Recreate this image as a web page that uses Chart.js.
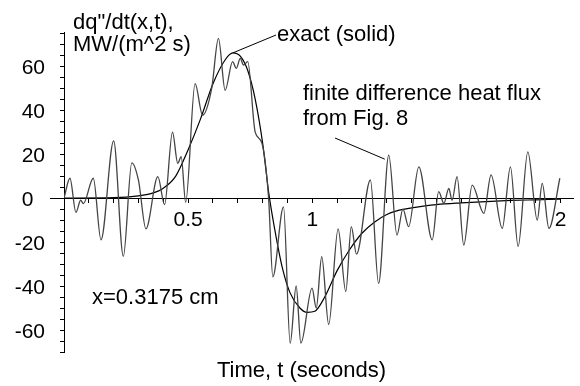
<!DOCTYPE html>
<html>
<head>
<meta charset="utf-8">
<script src="https://cdn.jsdelivr.net/npm/chart.js@4.4.0/dist/chart.umd.min.js"></script>
<style>
  html, body { margin: 0; padding: 0; background: #fff; }
  #wrap { width: 580px; height: 386px; position: relative; }
</style>
</head>
<body>
<div id="wrap"><canvas id="fluxChart"></canvas></div>
<script>
// exact solution (smooth curve), time in s, dq"/dt in MW/(m^2 s)
const exactT = [0, 0.2, 0.3, 0.35, 0.4, 0.45, 0.5, 0.55, 0.6, 0.65, 0.68, 0.71, 0.74, 0.77, 0.8, 0.825,
  0.85, 0.88, 0.91, 0.95, 0.98, 1.01, 1.05, 1.1, 1.15, 1.2, 1.25, 1.3, 1.35, 1.4, 1.5, 1.6, 1.7, 1.8, 1.9, 2.0];
const exactQ = [0, 0.2, 1, 2, 4.5, 10, 22, 36, 52, 63, 66, 64.5, 58, 45, 25, 2,
  -15, -32, -43, -50, -52, -51.5, -45, -33, -23.5, -16, -11, -7.5, -5.5, -4.5, -3, -2.2, -1.6, -1.1, -0.8, -0.5];

// finite difference heat flux (noisy curve)
const fdT = [0, 0.024, 0.048, 0.067, 0.078, 0.118, 0.149, 0.2, 0.239, 0.273, 0.3, 0.33, 0.378, 0.405,
  0.437, 0.458, 0.472, 0.49, 0.528, 0.558, 0.595, 0.622, 0.649, 0.679, 0.694, 0.71, 0.723, 0.74,
  0.77, 0.797, 0.824, 0.841, 0.884, 0.911, 0.935, 0.954, 0.999, 1.016, 1.038, 1.066, 1.104, 1.135,
  1.157, 1.178, 1.234, 1.267, 1.308, 1.341, 1.365, 1.388, 1.429, 1.483, 1.509, 1.53, 1.55, 1.563,
  1.583, 1.61, 1.644, 1.691, 1.72, 1.765, 1.798, 1.829, 1.868, 1.906, 1.926, 1.953, 1.997];
const fdQ = [0, 9, -6.5, -1, -2.5, 9, -19, 26, -26.5, 16, 8, -14, 9.7, -3,
  30, 15.8, 18.8, -2, 52, 37.7, 50, 72.6, 49, 62, 59, 63.5, 60.5, 62,
  30, 25, 0, -35.8, -4, -66, -40, -66, -41, -50, -26.7, -57.5, -14, -42.5,
  -13, -25.5, 8.2, -38.8, 19.5, -16.8, -5, -13, 14.2, -19, 2.9, -2.4, 4.4, -1,
  9.7, -21.4, 5.9, -7, 10.5, -13.8, 14.2, -22, 21, -10, 6.7, -13.8, 9];

// tick labels
const xLabelValues = [0.5, 1, 2];
const yLabelValues = [-60, -40, -20, 0, 20, 40, 60];

const FONT = '"Liberation Sans", Arial, sans-serif';

const toPoints = (ts, qs) => ts.map((t, i) => ({x: t, y: qs[i]}));

const annotations = {
  id: 'annotations',
  afterDraw(chart) {
    const c = chart.ctx;
    const xs = chart.scales.x, ys = chart.scales.y;
    const area = chart.chartArea;
    c.save();
    // short stub of the time axis left of the flux axis
    const y0 = Math.round(ys.getPixelForValue(0)) + 0.5;
    c.strokeStyle = '#000';
    c.lineWidth = 1;
    c.beginPath();
    c.moveTo(area.left - 14, y0);
    c.lineTo(area.left, y0);
    c.stroke();

    c.fillStyle = '#000';
    c.font = '22px ' + FONT;
    c.textBaseline = 'alphabetic';
    c.textAlign = 'left';
    c.fillText('dq"/dt(x,t),', 73, 29);
    c.fillText('MW/(m^2 s)', 73, 51);
    c.fillText('exact (solid)', 277, 41);
    c.fillText('finite difference heat flux', 303, 100);
    c.fillText('from Fig. 8', 303, 125);
    c.fillText('x=0.3175 cm', 92, 304);
    c.fillText('Time, t (seconds)', 217, 377);

    // leader lines
    c.beginPath();
    c.moveTo(xs.getPixelForValue(0.68), ys.getPixelForValue(66));
    c.lineTo(276, 35);
    c.moveTo(335, 138);
    c.lineTo(xs.getPixelForValue(1.308) - 4, ys.getPixelForValue(19.5) + 4);
    c.stroke();
    c.restore();
  }
};

const ctx = document.getElementById('fluxChart').getContext('2d');
const fluxChart = new Chart(ctx, {
  type: 'line',
  data: {
    datasets: [{
      label: 'finite difference',
      data: toPoints(fdT, fdQ),
      borderColor: '#444',
      borderWidth: 1.3,
      pointRadius: 0,
      fill: false,
      cubicInterpolationMode: 'monotone'
    }, {
      label: 'exact',
      data: toPoints(exactT, exactQ),
      borderColor: '#000',
      borderWidth: 1.2,
      pointRadius: 0,
      fill: false,
      cubicInterpolationMode: 'monotone'
    }]
  },
  options: {
    responsive: true,
    maintainAspectRatio: false,
    animation: false,
    events: [],
    layout: { padding: { left: 14, right: 7, top: 32, bottom: 34 } },
    plugins: {
      legend: { display: false },
      tooltip: { enabled: false }
    },
    scales: {
      x: {
        type: 'linear',
        min: 0,
        max: 2.05,
        position: { y: 0 },
        border: { display: true, color: '#000', width: 1 },
        grid: { drawOnChartArea: false, color: '#000', tickLength: 4 },
        ticks: {
          stepSize: 0.1,
          includeBounds: false,
          autoSkip: false,
          maxRotation: 0,
          maxTicksLimit: 40,
          padding: 6,
          color: '#000',
          font: { family: FONT, size: 21 },
          callback: (value) => xLabelValues.some(v => Math.abs(v - value) < 1e-6) ? String(value) : ''
        }
      },
      y: {
        type: 'linear',
        min: -70,
        max: 75.5,
        position: 'left',
        afterFit: (scale) => { scale.width = 50; },
        border: { display: true, color: '#000', width: 1 },
        grid: { drawOnChartArea: false, color: '#000', tickLength: 4 },
        ticks: {
          stepSize: 5,
          includeBounds: false,
          autoSkip: false,
          maxTicksLimit: 40,
          padding: 15,
          labelOffset: 2,
          color: '#000',
          font: { family: FONT, size: 21 },
          callback: (value) => {
            if (!yLabelValues.includes(value)) return '';
            return value === 0 ? '0  ' : String(value);
          }
        }
      }
    }
  },
  plugins: [annotations]
});
</script>
</body>
</html>
